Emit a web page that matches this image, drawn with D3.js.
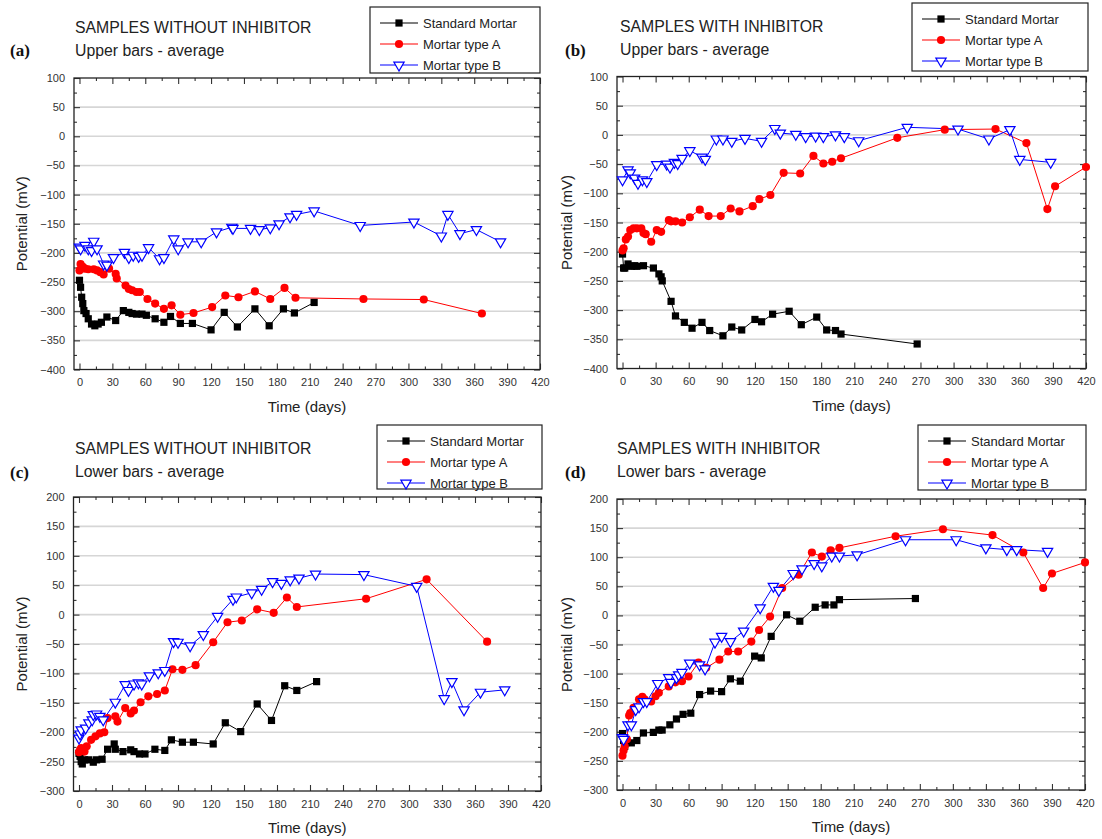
<!DOCTYPE html>
<html><head><meta charset="utf-8">
<script src="https://cdn.jsdelivr.net/npm/d3@7/dist/d3.min.js"></script>
<style>body{margin:0;background:#fff}svg{display:block}</style>
</head><body>
<svg id="c" width="1102" height="839"></svg>
<script>
// ---------- DATA (day, potential mV) ----------
const seriesNames = ["Standard Mortar", "Mortar type A", "Mortar type B"];
const xTicks = [0,30,60,90,120,150,180,210,240,270,300,330,360,390,420];
const yTicksUpper = [100,50,0,-50,-100,-150,-200,-250,-300,-350,-400];
const yTicksLower = [200,150,100,50,0,-50,-100,-150,-200,-250,-300];
const panelLetters = ["(a)","(b)","(c)","(d)"];
const titles = ["SAMPLES WITHOUT INHIBITOR","SAMPLES WITH INHIBITOR","SAMPLES WITHOUT INHIBITOR","SAMPLES WITH INHIBITOR"];
const subtitles = ["Upper bars - average","Upper bars - average","Lower bars - average","Lower bars - average"];

const a_std = [[0,-247],[1,-259],[2,-276],[3,-287],[4,-299],[6,-304],[8,-313],[11,-322],[14,-325],[17,-322],[20,-319],[25,-310],[33,-316],[40,-299],[45,-302],[48,-304],[52,-305],[57,-305],[61,-307],[69,-313],[77,-319],[83,-309],[92,-321],[103,-321],[120,-332],[132,-302],[144,-327],[160,-296],[173,-325],[186,-296],[196,-303],[214,-285]];
const a_A = [[0,-230],[1,-219],[3,-224],[5,-227],[8,-228],[13,-228],[16,-230],[19,-233],[22,-237],[27,-227],[33,-236],[34,-244],[42,-256],[45,-262],[48,-264],[52,-267],[55,-267],[62,-279],[69,-287],[77,-296],[84,-290],[92,-306],[104,-303],[121,-293],[133,-273],[145,-276],[160,-266],[174,-279],[187,-260],[197,-277],[259,-279],[314,-280],[367,-304]];
const a_B = [[0,-190],[1,-193],[5,-187],[8,-193],[11,-196],[13,-180],[16,-193],[22,-219],[25,-221],[31,-208],[41,-199],[45,-208],[49,-204],[54,-206],[57,-204],[63,-191],[73,-210],[77,-208],[86,-176],[90,-193],[99,-181],[111,-181],[125,-164],[139,-156],[140,-158],[156,-158],[164,-160],[174,-157],[182,-150],[192,-138],[198,-134],[214,-128],[256,-153],[305,-147],[330,-171],[336,-134],[347,-167],[362,-160],[384,-181]];

const b_std = [[0,-204],[1,-228],[2,-228],[5,-221],[8,-225],[11,-224],[13,-225],[19,-224],[28,-228],[33,-238],[35,-243],[36,-250],[44,-285],[48,-310],[56,-321],[63,-331],[72,-321],[79,-335],[91,-344],[99,-329],[108,-334],[120,-316],[126,-320],[136,-307],[151,-302],[162,-325],[176,-312],[185,-334],[193,-335],[198,-341],[267,-358]];
const b_A = [[0,-198],[1,-194],[3,-179],[5,-174],[7,-163],[10,-160],[13,-160],[17,-160],[19,-168],[21,-170],[26,-183],[31,-163],[35,-166],[42,-146],[44,-148],[48,-148],[54,-150],[61,-141],[70,-128],[78,-139],[89,-139],[98,-126],[106,-131],[118,-122],[124,-110],[134,-103],[146,-65],[161,-66],[173,-36],[182,-49],[190,-46],[198,-40],[249,-5],[292,9],[338,10],[366,-14],[385,-127],[392,-88],[420,-55]];
const b_B = [[0,-77],[5,-60],[7,-65],[11,-74],[14,-83],[18,-77],[22,-80],[31,-51],[40,-50],[43,-55],[47,-47],[50,-49],[54,-40],[61,-27],[72,-38],[75,-42],[85,-7],[91,-7],[99,-11],[111,-6],[126,-11],[138,11],[143,3],[157,1],[166,-3],[175,-2],[182,-3],[193,0],[201,-3],[214,-10],[258,13],[304,10],[332,-7],[351,9],[360,-42],[388,-47]];

const c_std = [[0,-236],[1,-241],[2,-250],[3,-254],[5,-247],[9,-247],[13,-251],[16,-247],[21,-246],[26,-229],[32,-220],[33,-229],[40,-233],[47,-230],[50,-233],[55,-237],[60,-237],[69,-229],[78,-231],[84,-213],[94,-217],[104,-217],[122,-220],[133,-184],[147,-199],[162,-152],[175,-180],[187,-121],[198,-129],[216,-114]];
const c_A = [[0,-234],[1,-230],[2,-227],[5,-233],[7,-224],[11,-213],[15,-207],[19,-202],[23,-200],[26,-176],[33,-173],[35,-182],[42,-159],[47,-168],[50,-163],[56,-149],[63,-139],[71,-135],[78,-129],[85,-93],[94,-94],[106,-86],[122,-47],[135,-13],[148,-10],[162,9],[177,3],[189,29],[198,13],[261,27],[316,60],[371,-46]];
const c_B = [[0,-210],[1,-203],[2,-196],[6,-193],[9,-184],[12,-179],[13,-170],[16,-169],[19,-173],[22,-179],[33,-149],[42,-119],[45,-129],[50,-118],[54,-116],[57,-118],[64,-104],[72,-99],[78,-95],[86,-46],[90,-47],[101,-53],[113,-34],[126,-3],[140,26],[143,30],[157,37],[166,43],[176,56],[184,53],[192,59],[200,62],[215,69],[259,68],[307,48],[332,-143],[339,-114],[350,-162],[365,-132],[387,-128]];

const d_std = [[0,-203],[1,-215],[2,-225],[3,-219],[8,-219],[13,-215],[19,-202],[28,-201],[33,-197],[36,-197],[43,-188],[49,-178],[55,-170],[62,-168],[70,-136],[80,-130],[90,-131],[98,-109],[107,-113],[120,-70],[126,-73],[135,-36],[149,1],[161,-10],[175,14],[184,18],[192,18],[197,27],[266,29]];
const d_A = [[0,-241],[1,-232],[2,-225],[4,-213],[6,-172],[7,-168],[10,-159],[15,-144],[18,-140],[20,-144],[26,-148],[30,-139],[33,-133],[42,-122],[48,-115],[54,-113],[60,-105],[69,-81],[76,-90],[88,-76],[96,-62],[105,-62],[117,-45],[124,-25],[134,-2],[145,47],[160,70],[172,108],[181,101],[189,112],[197,116],[248,136],[291,148],[336,138],[364,108],[382,47],[390,72],[420,91]];
const d_B = [[0,-210],[1,-213],[5,-188],[8,-188],[12,-162],[15,-157],[19,-148],[22,-148],[32,-117],[42,-107],[44,-115],[49,-107],[51,-102],[54,-98],[61,-82],[70,-85],[75,-92],[84,-46],[90,-36],[98,-45],[110,-27],[125,13],[137,50],[142,43],[155,72],[163,80],[174,89],[181,85],[190,102],[197,102],[213,104],[257,130],[303,130],[330,116],[349,113],[358,113],[386,110]];

// ---------- LAYOUT / STYLE ----------
const FONT = "'Liberation Sans', Arial, sans-serif";
const colors = ["#000000", "#ff0000", "#0000ff"];
const panels = [
  {series:[a_std,a_A,a_B], yTicks:yTicksUpper, x0:74, x1:540, y0:78, y1:369.5, lab:[10,56], tx:75, ty:33, legend:[370,7,170,66], ytx:22},
  {series:[b_std,b_A,b_B], yTicks:yTicksUpper, x0:617, x1:1086, y0:76.5, y1:368.5, lab:[565,56], tx:620, ty:32, legend:[912,3,176,68], ytx:567},
  {series:[c_std,c_A,c_B], yTicks:yTicksLower, x0:73.5, x1:541, y0:497, y1:791, lab:[10,478], tx:75, ty:454, legend:[377,425,165,64], ytx:22},
  {series:[d_std,d_A,d_B], yTicks:yTicksLower, x0:617, x1:1085, y0:499, y1:790, lab:[565,478], tx:617, ty:454, legend:[918,425,168,65], ytx:567}
];

const svg = d3.select("#c");

const sym = [d3.symbol().type(d3.symbolSquare).size(52),
             d3.symbol().type(d3.symbolCircle).size(52),
             d3.symbol().type(d3.symbolTriangle).size(46)];

panels.forEach((P, pi) => {
  const g = svg.append("g");
  const yMax = P.yTicks[0], yMin = P.yTicks[P.yTicks.length-1];
  const x = d3.scaleLinear().domain([-5, 420]).range([P.x0, P.x1]);
  const y = d3.scaleLinear().domain([yMin, yMax]).range([P.y1, P.y0]);
  const minorX = d3.range(15, 420, 30);
  const minorY = d3.range(yMin + 25, yMax, 50);

  // gridlines
  g.append("g").selectAll("line").data(P.yTicks.slice(1, -1)).join("line")
    .attr("x1", P.x0).attr("x2", P.x1).attr("y1", d => y(d)).attr("y2", d => y(d))
    .attr("stroke", "#d6d6d6").attr("stroke-width", 1.6);

  // axes
  const mk = (axis, tr, ticks, size, labels) => {
    const ag = g.append("g").attr("transform", tr)
      .call(axis.tickValues(ticks).tickSize(size).tickPadding(9)
        .tickFormat(labels ? d3.format("d") : () => ""));
    ag.select(".domain").remove();
    ag.selectAll("line").attr("stroke", "#333").attr("stroke-width", 1.1);
    ag.selectAll("text").attr("font-family", FONT).attr("font-size", 11).attr("fill", "#333");
    return ag;
  };
  mk(d3.axisBottom(x), `translate(0,${P.y1})`, xTicks, -6, true);
  mk(d3.axisBottom(x), `translate(0,${P.y1})`, minorX, -3, false);
  mk(d3.axisTop(x), `translate(0,${P.y0})`, xTicks, -6, false);
  mk(d3.axisTop(x), `translate(0,${P.y0})`, minorX, -3, false);
  mk(d3.axisLeft(y), `translate(${P.x0},0)`, P.yTicks, -6, true);
  mk(d3.axisLeft(y), `translate(${P.x0},0)`, minorY, -3, false);
  mk(d3.axisRight(y), `translate(${P.x1},0)`, P.yTicks, -6, false);
  mk(d3.axisRight(y), `translate(${P.x1},0)`, minorY, -3, false);

  g.append("rect").attr("x", P.x0).attr("y", P.y0).attr("width", P.x1 - P.x0).attr("height", P.y1 - P.y0)
    .attr("fill", "none").attr("stroke", "#222").attr("stroke-width", 1.3);

  // series
  const line = d3.line().x(d => x(d[0])).y(d => y(d[1]));
  P.series.forEach((data, si) => {
    g.append("path").datum(data).attr("d", line).attr("fill", "none")
      .attr("stroke", colors[si]).attr("stroke-width", 1);
  });
  P.series.forEach((data, si) => {
    g.append("g").selectAll("path").data(data).join("path")
      .attr("d", sym[si]())
      .attr("transform", d => `translate(${x(d[0])},${y(d[1])})` + (si === 2 ? " rotate(180)" : ""))
      .attr("fill", si === 2 ? "#fff" : colors[si])
      .attr("stroke", si === 2 ? colors[2] : "none")
      .attr("stroke-width", 1.2);
  });

  // axis titles
  g.append("text").attr("x", (P.x0 + P.x1) / 2).attr("y", P.y1 + 42).attr("text-anchor", "middle")
    .attr("font-family", FONT).attr("font-size", 15).attr("fill", "#222").text("Time (days)");
  g.append("text").attr("transform", `translate(${P.ytx},${(P.y0 + P.y1) / 2}) rotate(-90)`)
    .attr("text-anchor", "middle").attr("dy", "0.35em")
    .attr("font-family", FONT).attr("font-size", 15).attr("fill", "#222").text("Potential (mV)");

  // titles
  g.append("text").attr("x", P.lab[0]).attr("y", P.lab[1]).attr("font-family", "'Liberation Serif', 'Times New Roman', serif")
    .attr("font-weight", "bold").attr("font-size", 17).attr("fill", "#111").text(panelLetters[pi]);
  g.append("text").attr("x", P.tx).attr("y", P.ty).attr("font-family", FONT).attr("font-size", 15.8)
    .attr("fill", "#222").text(titles[pi]);
  g.append("text").attr("x", P.tx).attr("y", P.ty + 23).attr("font-family", FONT).attr("font-size", 15.8)
    .attr("fill", "#222").text(subtitles[pi]);

  // legend
  const [lx, ly, lw, lh] = P.legend;
  const lg = g.append("g");
  lg.append("rect").attr("x", lx).attr("y", ly).attr("width", lw).attr("height", lh)
    .attr("fill", "#fff").attr("stroke", "#222").attr("stroke-width", 1.2);
  seriesNames.forEach((name, si) => {
    const ry = ly + 16 + si * 21;
    lg.append("line").attr("x1", lx + 10).attr("x2", lx + 48).attr("y1", ry).attr("y2", ry)
      .attr("stroke", colors[si]).attr("stroke-width", 1.2);
    lg.append("path").attr("d", sym[si]())
      .attr("transform", `translate(${lx + 29},${ry})` + (si === 2 ? " rotate(180)" : ""))
      .attr("fill", si === 2 ? "#fff" : colors[si])
      .attr("stroke", si === 2 ? colors[2] : "none").attr("stroke-width", 1.2);
    lg.append("text").attr("x", lx + 53).attr("y", ry).attr("dy", "0.35em")
      .attr("font-family", FONT).attr("font-size", 13).attr("fill", "#222").text(name);
  });
});
</script>
</body></html>
